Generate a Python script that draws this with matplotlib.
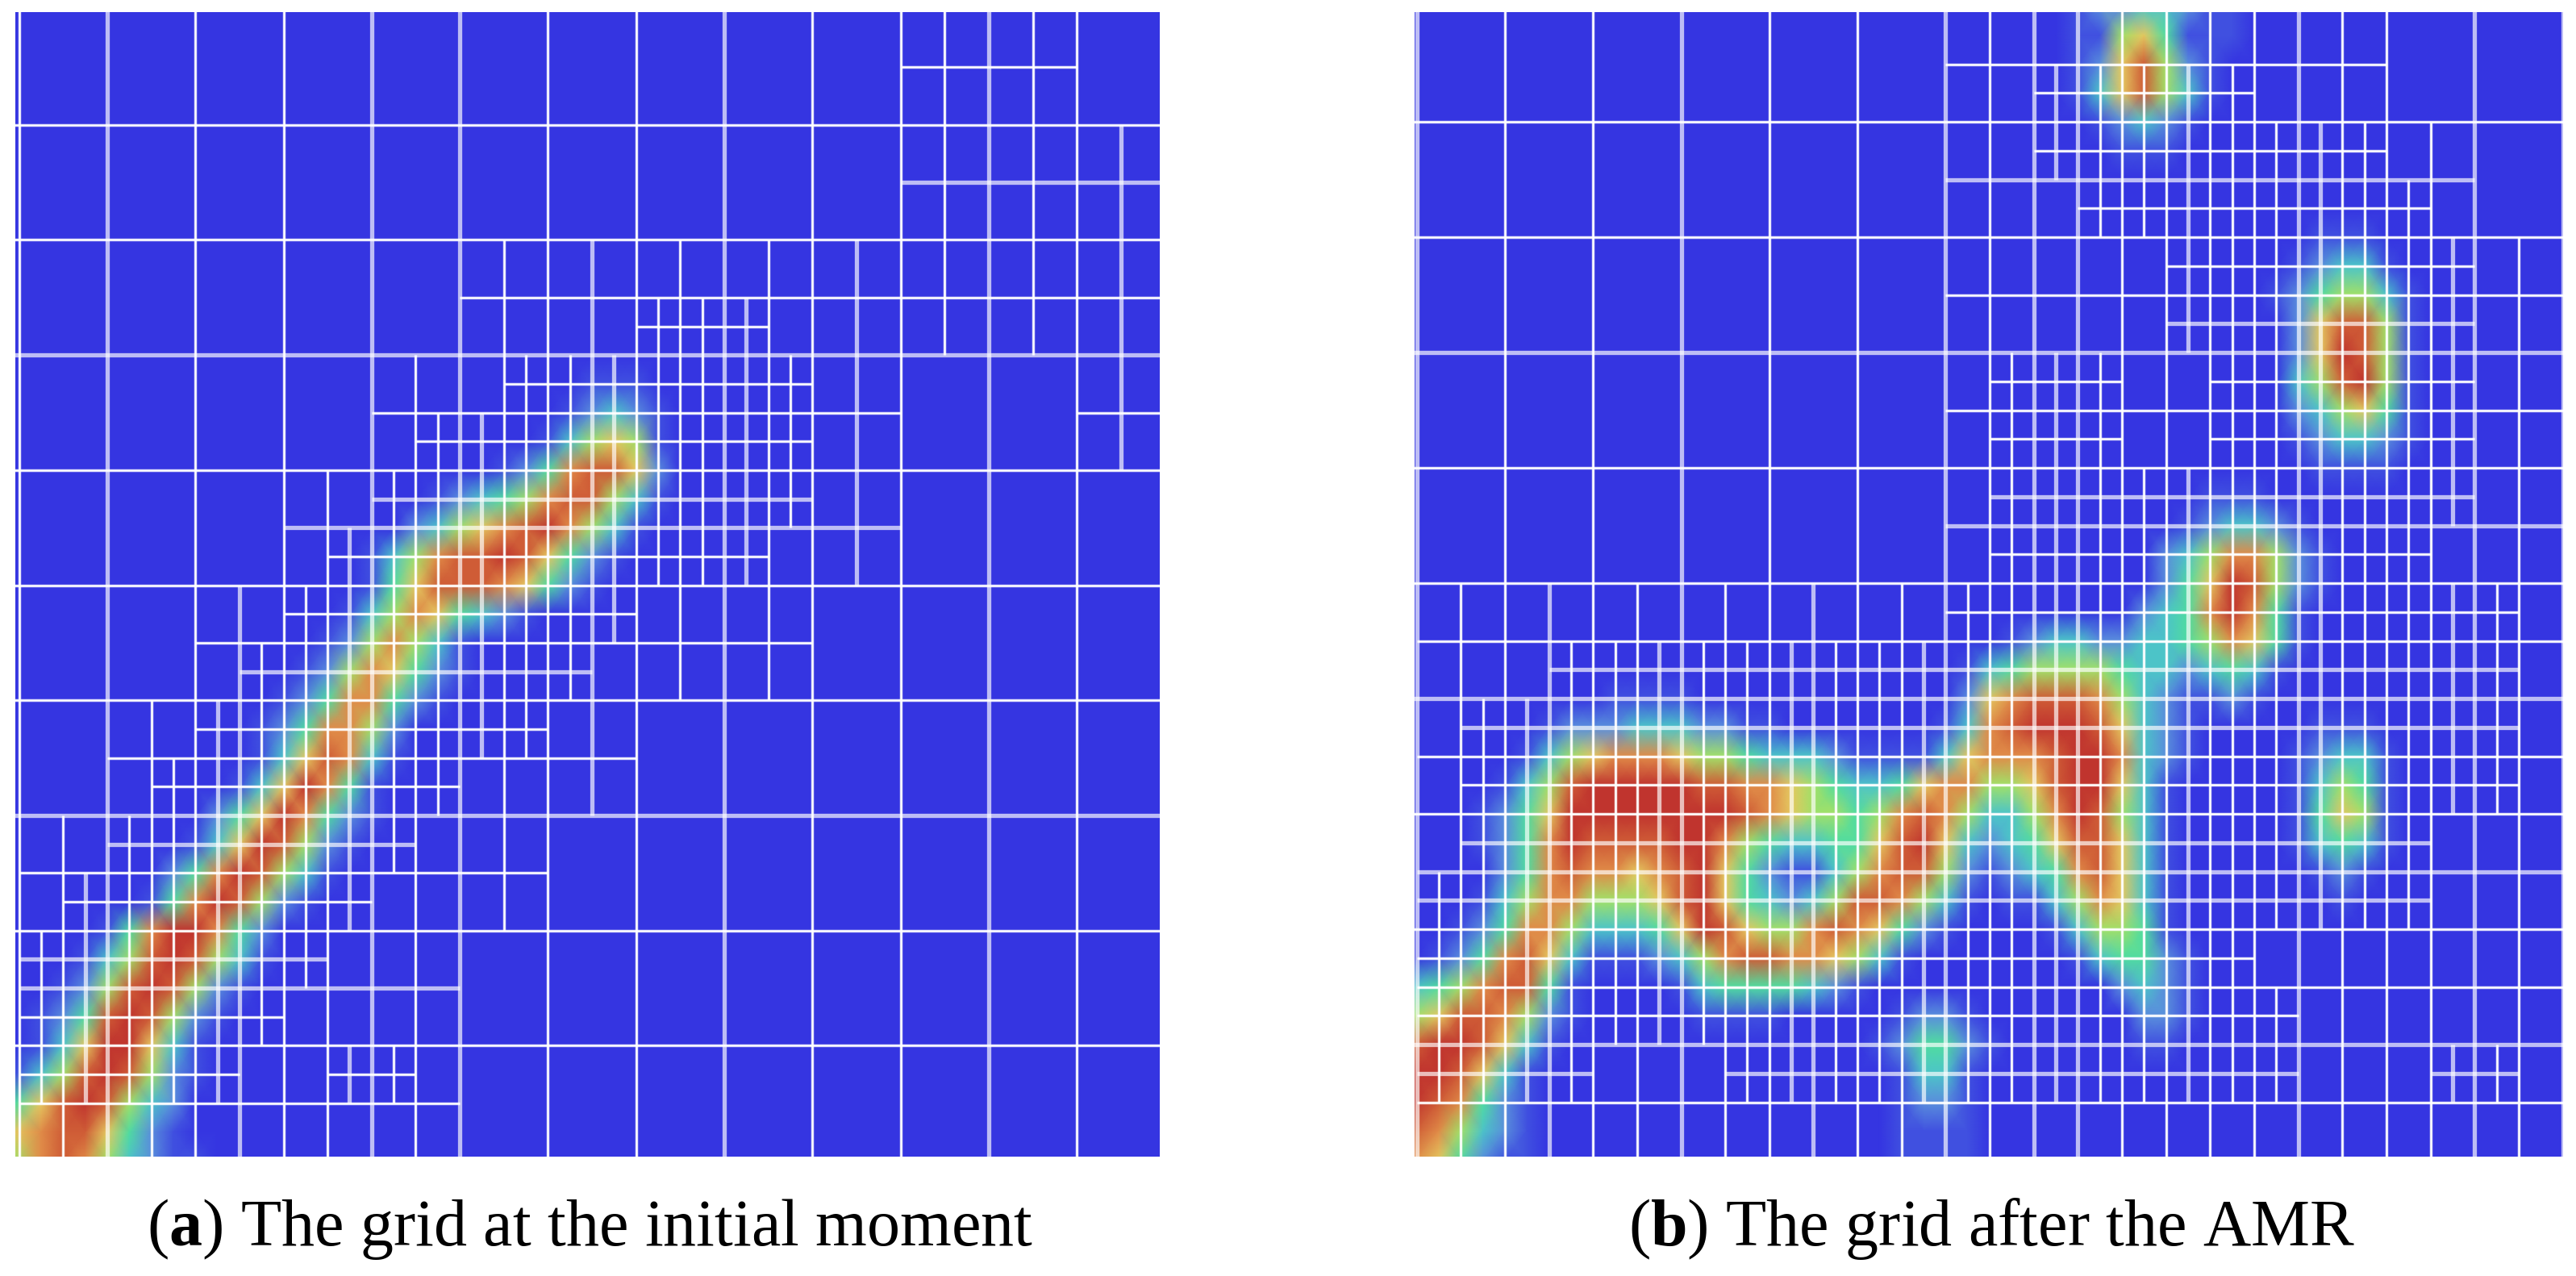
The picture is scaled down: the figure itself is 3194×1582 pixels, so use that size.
import numpy as np
import matplotlib
matplotlib.use('Agg')
import matplotlib.pyplot as plt
from matplotlib.collections import LineCollection
from matplotlib.colors import LinearSegmentedColormap

# refinement per half cell: '.' coarse, '1' one split, '2' two splits
LEVELS_A = [
    "....................1111..",
    "....................1111..",
    "....................111111",
    "....................111111",
    "..........1111111111111111",
    "..........1111222111111111",
    "........111222222211....11",
    "........122222222211....11",
    "......11222222222211......",
    "......12222222222111......",
    "....11222222221111........",
    "....12222222211111........",
    "..112222222211............",
    "..122222221111............",
    "112222222111..............",
    "122222221111..............",
    "2222222111................",
    "2222221111................",
    "2222211221................",
    "1111111111................",
]
LEVELS_B = [
    "............1111111111....",
    "............1122222111....",
    "............112222222211..",
    "............111222222221..",
    "............11111222222211",
    "............11111222222211",
    "............12221122222211",
    "............12221122222211",
    "............12222222222211",
    "............12222222222111",
    "11111111111122222222222221",
    "11122222222222222222222221",
    "12222222222222222222222221",
    "12222222222222222222222221",
    "12222222222222222222222111",
    "22222222222222222222222111",
    "22222222222222222221111111",
    "22222222222222222222111111",
    "22221112222222222222111221",
    "11111111111111111111111111",
]

# field level 0-9 at the quarter-cell nodes: (row, first column, values)
FIELD_A = [
    (13, 26, "111"), (14, 25, "12321"), (15, 24, "135651"),
    (16, 22, "12478862"), (17, 19, "12345788531"), (18, 18, "23567897531"),
    (19, 16, "135788986421"), (20, 16, "14688876421"), (21, 15, "135764321"),
    (22, 14, "1257531"), (23, 13, "12576421"), (24, 12, "12477421"),
    (25, 11, "1247752"), (26, 11, "1368731"), (27, 10, "1369741"),
    (28, 9, "24697421"), (29, 8, "13698521"), (30, 7, "24798531"),
    (31, 6, "14798521"), (32, 4, "14799742"), (33, 3, "135898531"),
    (34, 2, "125898521"), (35, 1, "124898521"), (36, 1, "13699631"),
    (37, 0, "135898521"), (38, 0, "46898532"), (39, 0, "67886421"),
    (40, 0, "578753211"),
]
FIELD_B = [
    (0, 30, "12233211"), (1, 30, "11564111"), (2, 30, "1268521"),
    (3, 30, "1368531"), (4, 31, "12321"), (5, 32, "111"),
    (8, 41, "111"), (9, 40, "12331"), (10, 39, "1245531"),
    (11, 39, "0268851"), (12, 39, "0269851"), (13, 39, "0358951"),
    (14, 40, "235641"), (15, 40, "123321"), (16, 41, "1111"),
    (17, 36, "111"), (18, 35, "123321"), (19, 34, "23577521"),
    (20, 34, "24698521"), (21, 33, "23479741"), (22, 27, "12332233457641"),
    (23, 25, "134555543323431"),
    (24, 9, "1111"), (24, 25, "26788875321121"),
    (25, 6, "12223332211"), (25, 24, "137899986321"), (25, 41, "111"),
    (26, 5, "1356777655433321111367778997321"), (26, 40, "12331"),
    (27, 4, "1358999998877654334677556899631"), (27, 40, "13541"),
    (28, 3, "12469999999987655457875335798531"), (28, 40, "14651"),
    (29, 3, "12479888899754334468963234688631"), (29, 40, "13431"),
    (30, 4, "2478776789642113578852123478631"), (30, 41, "121"),
    (31, 3, "13577555689643235887531011357631"), (31, 42, "1"),
    (32, 2, "12477533346986557876421"), (32, 29, "135541"),
    (33, 1, "1247863111235788776531"), (33, 30, "134421"),
    (34, 0, "34578841"), (34, 12, "134444321"), (34, 32, "2321"),
    (35, 0, "56887521"), (35, 13, "1111"), (35, 22, "1221"), (35, 33, "221"),
    (36, 0, "8998631"), (36, 21, "124421"), (36, 33, "11"),
    (37, 0, "998631"), (37, 22, "1331"),
    (38, 0, "987421"), (38, 22, "1221"),
    (39, 0, "875321"), (39, 22, "1111"),
    (40, 0, "764211"), (40, 22, "1111"),
]

# grid lines that came out soft in the picture, in quarter cells
SOFT_X_A = [3, 4, 9, 10, 15, 16, 20, 21, 26, 27, 32, 33, 38, 44, 50]
SOFT_Y_A = [6, 12, 17, 18, 23, 28, 29, 33, 34]
SOFT_X_B = [0, 5, 6, 11, 12, 17, 18, 23, 24, 28, 29, 30, 35, 40, 41, 47, 48, 52]
SOFT_Y_B = [6, 11, 12, 17, 18, 23, 24, 25, 29, 30, 31, 36, 37]

CAPTION_A = r"($\mathbf{a}$) The grid at the initial moment"
CAPTION_B = r"($\mathbf{b}$) The grid after the AMR"

COLORS = ['#3535E1', '#4050E0', '#5A90DC', '#4CC4C8', '#50DCA0',
          '#A0E068', '#E4C860', '#E08C48', '#CF5C36', '#C0342E']

WIDTH, HEIGHT = 3194, 1582
CELL_W = 109.3


def field_grid(entries):
    z = np.zeros((41, 53))
    for row, start, digits in entries:
        for i, ch in enumerate(digits):
            z[row, start + i] = int(ch)
    return z


def add_box(horiz, vert, q, r, size):
    for i in range(size):
        horiz.add((r, q + i))
        horiz.add((r + size, q + i))
        vert.add((q, r + i))
        vert.add((q + size, r + i))


def grid_edges(levels):
    horiz, vert = set(), set()
    for row in range(10):
        for col in range(-1, 14):
            add_box(horiz, vert, col * 4, row * 4, 4)
    for v, text in enumerate(levels):
        for h, ch in enumerate(text):
            if ch == '.':
                continue
            add_box(horiz, vert, h * 2, v * 2, 2)
            if ch == '2':
                for dq in (0, 1):
                    for dr in (0, 1):
                        add_box(horiz, vert, h * 2 + dq, v * 2 + dr, 1)
    return horiz, vert


def merge_runs(edges):
    runs = []
    for line in sorted({e[0] for e in edges}):
        spans = sorted(e[1] for e in edges if e[0] == line)
        start = prev = spans[0]
        for s in spans[1:]:
            if s != prev + 1:
                runs.append((line, start, prev + 1))
                start = s
            prev = s
        runs.append((line, start, prev + 1))
    return runs


def draw_grid(ax, levels, soft_x, soft_y):
    horiz, vert = grid_edges(levels)
    crisp, soft = [], []
    for line, a, b in merge_runs(horiz):
        seg = [(a / 4, line / 4), (b / 4, line / 4)]
        (soft if line in soft_y else crisp).append(seg)
    for line, a, b in merge_runs(vert):
        seg = [(line / 4, a / 4), (line / 4, b / 4)]
        (soft if line in soft_x else crisp).append(seg)
    ax.add_collection(LineCollection(crisp, colors='white', linewidths=3.4,
                                     alpha=0.22, capstyle='butt', zorder=2))
    ax.add_collection(LineCollection(soft, colors='white', linewidths=3.8,
                                     alpha=0.68, capstyle='butt', zorder=3))
    ax.add_collection(LineCollection(crisp, colors='white', linewidths=1.9,
                                     capstyle='butt', zorder=4))


def draw_panel(fig, cmap, box, x0, y0, row_h, levels, field, soft_x, soft_y):
    left, top, right, bottom = box
    ax = fig.add_axes([left / WIDTH, 1 - bottom / HEIGHT,
                       (right - left) / WIDTH, (bottom - top) / HEIGHT])
    xlim = ((left - x0) / CELL_W, (right - x0) / CELL_W)
    ylim = ((bottom - y0) / row_h, (top - y0) / row_h)
    xs = np.arange(53) / 4
    xs[0] = min(xs[0], xlim[0])
    ys = np.arange(41) / 4
    ax.pcolormesh(xs, ys, field_grid(field), shading='gouraud', cmap=cmap, vmin=0, vmax=9)
    draw_grid(ax, levels, soft_x, soft_y)
    ax.set_xlim(xlim)
    ax.set_ylim(ylim)
    ax.axis('off')


def main():
    plt.rcParams['font.family'] = ['Liberation Serif', 'DejaVu Serif']
    plt.rcParams['mathtext.fontset'] = 'custom'
    plt.rcParams['mathtext.bf'] = 'Liberation Serif:bold'
    cmap = LinearSegmentedColormap.from_list('field', COLORS)

    fig = plt.figure(figsize=(WIDTH / 100, HEIGHT / 100), dpi=100)
    draw_panel(fig, cmap, (19, 15, 1438, 1434), 23.6, 12.1, 142.7,
               LEVELS_A, FIELD_A, SOFT_X_A, SOFT_Y_A)
    draw_panel(fig, cmap, (1754, 15, 3178, 1434), 1756.6, 8.0, 143.0,
               LEVELS_B, FIELD_B, SOFT_X_B, SOFT_Y_B)

    fig.text(732 / WIDTH, 1 - 1544 / HEIGHT, CAPTION_A, fontsize=59,
             ha='center', va='baseline', color='black')
    fig.text(2470 / WIDTH, 1 - 1544 / HEIGHT, CAPTION_B, fontsize=59,
             ha='center', va='baseline', color='black')

    fig.savefig('out.png', dpi=100)


if __name__ == "__main__":
    main()
